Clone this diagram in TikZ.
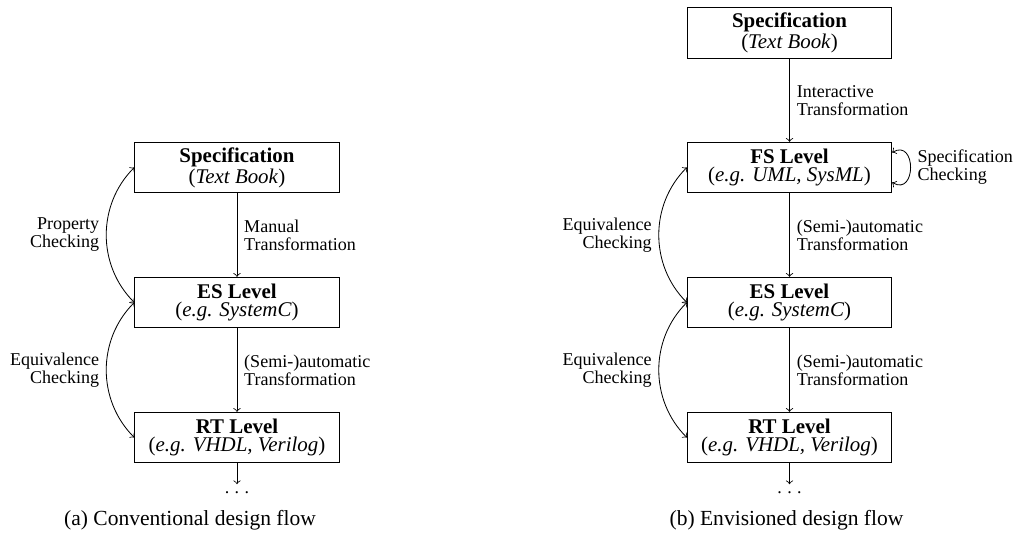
\documentclass[tikz,border=0pt]{standalone}
\usepackage{fontspec}
\setmainfont{Liberation Serif}
\usetikzlibrary{positioning}

\begin{document}
\begin{tikzpicture}[
    level/.style={draw, thin, minimum width=3.506cm, minimum height=0.866cm, inner sep=1pt, align=center, font=\fontsize{10.2}{8.8}\selectfont},
    lbl/.style={align=left, font=\fontsize{8.8}{8.8}\selectfont},
    subcap/.style={font=\fontsize{10.5}{12}\selectfont}
  ]
      \useasboundingbox (0,0) rectangle (17.419,9.155);
      \def\moredots{.\hspace{0.3em}.\hspace{0.3em}.}
      % (a) conventional flow
      \node[level] (specA) at (4.063,6.284) {\textbf{Specification}\\(\textit{Text Book})};
      \node[level] (esA) at (4.063,3.969) {\textbf{ES Level}\\(\textit{e.g. SystemC})};
      \node[level] (rtA) at (4.063,1.654) {\textbf{RT Level}\\(\textit{e.g. VHDL, Verilog})};
      \node[lbl, below=0.36cm of rtA] (dotsA) {\moredots};
      \draw[->] (specA) -- node[lbl, right] {Manual\\Transformation} (esA);
      \draw[->] (esA) -- node[lbl, right] {(Semi-)automatic\\Transformation} (rtA);
      \draw[->] (rtA) -- (dotsA);
      \draw[<->] (specA.west) to[bend right=45] node[lbl, left, align=right] {Property\\Checking} (esA.west);
      \draw[<->] (esA.west) to[bend right=45] node[lbl, left, align=right] {Equivalence\\Checking} (rtA.west);
      \node[subcap] (capA) at (3.258,0.240) {(a) Conventional design flow};

      % (b) envisioned flow
      \node[level] (specB) at (13.536,8.590) {\textbf{Specification}\\(\textit{Text Book})};
      \node[level] (fsB) at (13.536,6.284) {\textbf{FS Level}\\(\textit{e.g. UML, SysML})};
      \node[level] (esB) at (13.536,3.969) {\textbf{ES Level}\\(\textit{e.g. SystemC})};
      \node[level] (rtB) at (13.536,1.654) {\textbf{RT Level}\\(\textit{e.g. VHDL, Verilog})};
      \node[lbl, below=0.36cm of rtB] (dotsB) {\moredots};
      \draw[->] (specB) -- node[lbl, right] {Interactive\\Transformation} (fsB);
      \draw[->] (fsB) -- node[lbl, right] {(Semi-)automatic\\Transformation} (esB);
      \draw[->] (esB) -- node[lbl, right] {(Semi-)automatic\\Transformation} (rtB);
      \draw[->] (rtB) -- (dotsB);
      \draw[<->] ([yshift=0.257cm]fsB.east) to[out=30, in=-30, looseness=2.4] node[lbl, right] {Specification\\Checking} ([yshift=-0.257cm]fsB.east);
      \draw[<->] (fsB.west) to[bend right=45] node[lbl, left, align=right] {Equivalence\\Checking} (esB.west);
      \draw[<->] (esB.west) to[bend right=45] node[lbl, left, align=right] {Equivalence\\Checking} (rtB.west);
      \node[subcap] (capB) at (13.484,0.240) {(b) Envisioned design flow};

    \end{tikzpicture}
\end{document}
